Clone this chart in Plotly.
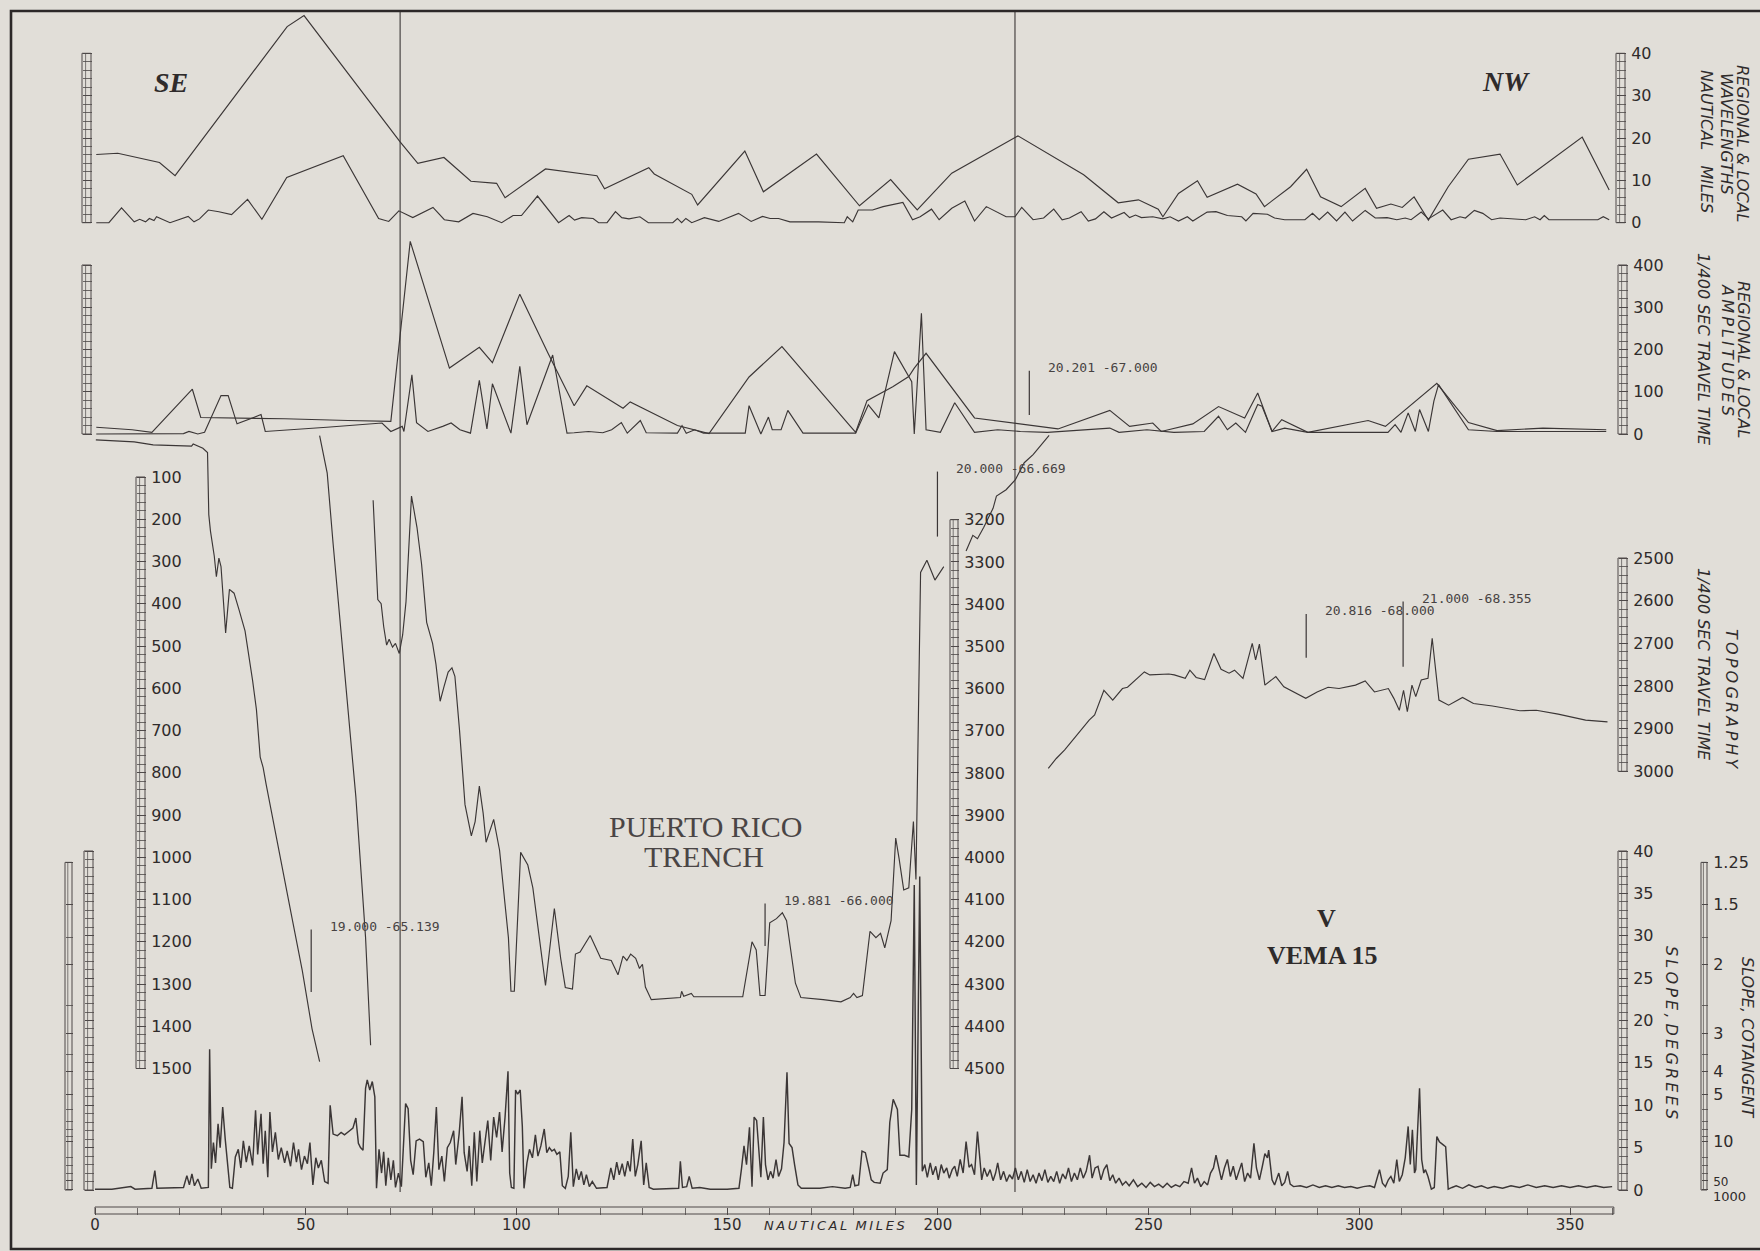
import numpy as np
import plotly.graph_objects as go

W, H = 1760, 1251
PAPER = "#e1ded8"
INK = "#3b3636"
RULE = "#4e4949"
TEXT = "#2f2b2b"

# ---------------- regional & local wavelengths (nautical miles) ----------------
wl_regional_nm = [0.3, 5.4, 15.3, 19.0, 45.6, 49.6, 72.4, 76.6, 82.8, 89.2, 95.3, 97.3,
                  106.9, 119.1, 120.9, 131.4, 132.7, 141.6, 143.0, 154.2, 158.6, 171.2,
                  181.4, 188.8, 195.1, 203.3, 219.0, 234.6, 242.8, 247.6, 252.3, 253.4,
                  257.1, 261.6, 263.9, 271.1, 275.5, 277.5, 283.7, 287.5, 290.8, 295.7,
                  301.4, 304.1, 307.5, 310.2, 313.0, 316.4, 321.1, 325.9, 333.4, 337.5,
                  352.9, 359.3]
wl_regional = [16.1, 16.4, 14.2, 11.1, 46.3, 48.9, 19.1, 14.0, 15.4, 9.8, 9.3, 5.9,
               12.7, 11.1, 8.0, 13.0, 11.5, 6.7, 4.2, 16.9, 7.3, 16.2,
               4.0, 10.2, 3.0, 11.7, 20.5, 11.3, 4.7, 5.4, 3.2, 1.4,
               6.9, 9.9, 6.0, 9.1, 6.8, 3.8, 8.5, 12.6, 6.1, 3.8,
               8.1, 3.4, 4.4, 3.6, 6.1, 0.6, 8.5, 15.0, 16.2, 8.9,
               20.2, 7.7]

wl_local_nm = [0.3, 3.3, 6.3, 9.3, 10.6, 12.0, 12.9, 14.0, 14.6, 17.8, 22.1, 23.5, 24.8,
               26.9, 29.4, 32.4, 36.2, 39.6, 45.5, 58.9, 67.3, 69.7, 72.1, 75.4, 80.2,
               82.9, 86.3, 89.7, 93.1, 96.5, 99.2, 101.2, 105.0, 110.0, 112.5, 113.8,
               115.5, 118.2, 119.5, 121.5, 123.5, 125.0, 126.7, 129.3, 131.3, 137.1,
               138.2, 139.2, 140.2, 141.6, 144.6, 148.0, 152.7, 155.7, 158.4, 160.2,
               162.2, 164.9, 171.7, 177.8, 178.5, 179.8, 181.1, 184.5, 187.0, 191.7,
               194.0, 195.8, 198.5, 200.3, 203.3, 206.4, 208.7, 211.5, 216.2, 218.3,
               219.9, 222.6, 225.1, 227.5, 229.5, 231.2, 234.0, 235.7, 237.4, 239.4,
               241.2, 244.2, 245.5, 246.9, 248.3, 251.0, 253.4, 255.1, 257.1, 259.2,
               260.5, 263.9, 266.0, 268.7, 272.1, 273.1, 274.8, 278.2, 279.9, 282.3,
               287.1, 288.9, 290.5, 292.5, 294.6, 296.6, 298.4, 301.4, 303.8, 306.6,
               308.9, 310.9, 312.3, 314.7, 316.4, 319.8, 321.8, 323.9, 325.2, 327.3,
               329.3, 331.4, 333.4, 339.5, 341.6, 342.9, 343.9, 345.0, 356.6, 357.9,
               359.3]
wl_local = [0.0, 0.0, 3.5, 0.2, 0.8, 0.2, 1.0, 0.5, 1.4, 0.0, 1.5, 0.2, 0.9,
            3.0, 2.6, 1.9, 5.5, 0.8, 10.7, 15.8, 1.0, 0.3, 2.8, 1.2, 3.6,
            0.7, 0.2, 2.2, 1.4, 0.0, 1.7, 1.7, 6.3, 0.0, 1.7, 0.6,
            1.2, 1.0, 0.0, 0.0, 2.6, 1.2, 0.9, 1.4, 0.0, 0.0,
            1.0, 0.0, 1.0, 0.0, 1.2, 0.3, 2.2, 0.3, 1.5, 1.0,
            1.0, 0.2, 0.2, 0.0, 1.4, 0.2, 3.0, 3.0, 3.8, 4.8,
            0.7, 1.4, 3.2, 0.7, 3.4, 5.1, 0.4, 3.8, 1.4, 1.4,
            3.6, 0.7, 1.1, 3.2, 0.7, 1.1, 2.6, 0.4, 0.9, 2.6,
            1.1, 2.4, 1.2, 1.8, 1.2, 1.4, 0.9, 1.4, 0.4, 1.4,
            0.4, 2.5, 2.6, 1.7, 1.4, 0.4, 2.2, 2.0, 1.1, 0.7,
            0.7, 2.2, 0.7, 2.5, 0.4, 2.5, 0.4, 2.9, 1.1, 1.2,
            0.7, 1.1, 0.7, 2.5, 0.9, 3.0, 0.7, 1.4, 1.1, 2.9,
            2.2, 0.7, 1.1, 0.7, 1.4, 0.7, 1.7, 0.7, 0.7, 1.4,
            0.7]

# ---------------- regional & local amplitudes (1/400 sec travel time) ----------------
amp_regional_nm = [0.3, 8.8, 13.5, 23.1, 25.1, 33.3, 45.0, 60.0, 70.2, 74.8, 84.1, 91.2,
                   94.3, 100.8, 107.5, 113.7, 116.7, 125.3, 127.0, 138.2, 145.7, 155.2,
                   163.0, 179.1, 180.5, 183.2, 186.7, 189.3, 193.1, 194.4, 197.2, 208.7,
                   228.5, 240.8, 245.5, 251.0, 253.0, 260.5, 266.6, 272.8, 275.9, 279.3,
                   281.6, 287.8, 302.1, 306.2, 318.4, 325.9, 332.7, 343.6, 358.6]
amp_regional = [16, 10, 4, 106, 39, 38, 36, 32, 30, 456, 156, 205,
                169, 331, 191, 67, 114, 61, 76, 20, 1, 135,
                207, 20, 4, 79, 97, 112, 136, 156, 191, 38,
                12, 56, 18, 26, 6, 24, 65, 38, 97, 6,
                34, 4, 32, 18, 120, 27, 8, 14, 10]

amp_local_nm = [0.3, 13.5, 21.0, 22.3, 24.4, 26.0, 29.9, 31.6, 33.7, 39.4, 40.4, 55.0,
                68.1, 70.2, 72.9, 73.3, 75.2, 76.3, 79.0, 82.5, 84.5, 86.6, 89.1, 91.2,
                93.0, 94.3, 98.7, 100.8, 102.5, 108.6, 112.0, 113.7, 117.1, 120.5, 122.6,
                124.9, 126.3, 129.4, 130.8, 138.2, 139.3, 140.3, 142.3, 144.4, 154.3,
                155.2, 158.0, 159.8, 160.7, 162.8, 164.4, 168.0, 180.5, 183.5, 186.0,
                189.7, 193.8, 194.4, 196.1, 197.2, 200.6, 204.0, 208.7, 214.2, 219.6,
                226.0, 236.0, 240.8, 243.0, 249.6, 256.0, 263.2, 266.6, 268.7, 270.7,
                273.0, 275.9, 276.9, 279.3, 282.3, 287.8, 306.8, 308.5, 309.9, 311.6,
                313.3, 314.3, 316.4, 317.7, 318.8, 325.9, 332.7, 358.6]
amp_local = [0, 0, 1, 6, 0, 4, 91, 91, 24, 46, 6, 16,
             26, 6, 18, 6, 140, 27, 6, 18, 26, 10, 2, 127,
             12, 119, 2, 160, 22, 187, 2, 3, 6, 3, 10,
             27, 2, 32, 3, 2, 20, 2, 10, 2, 2,
             67, 0, 40, 10, 10, 56, 2, 2, 69, 38,
             195, 124, 0, 286, 10, 4, 74, 4, 10, 6,
             4, 10, 14, 4, 10, 4, 6, 42, 10, 26,
             4, 70, 66, 6, 14, 4, 4, 22, 4, 50,
             6, 58, 6, 78, 117, 10, 6, 6]

# ---------------- topography (1/400 sec travel time, plotted in sweeps) ----------------
# first sweep, left scale
topo_shelf_nm = [0.2, 9.3, 13.8, 22.9, 23.3, 25.6, 26.7, 27.0, 27.4, 28.3, 28.8, 29.4,
                 29.9, 31.0, 31.9, 33.0, 34.2, 35.6, 37.4, 38.3, 39.2, 39.9, 40.6, 41.9,
                 43.8, 46.5, 49.2, 51.5, 53.3]
topo_shelf = [12, 17, 24, 27, 22, 32, 42, 189, 228, 287, 336, 292,
              312, 469, 366, 375, 415, 464, 582, 650, 763, 788, 827, 896,
              994, 1131, 1269, 1406, 1484]
# second sweep, left scale
topo_slope_nm = [53.3, 55.1, 56.5, 59.2, 61.9, 64.2, 64.8, 65.4]
topo_slope = [2, 91, 258, 562, 857, 1190, 1337, 1445]
# third sweep, middle scale
topo_trench_nm = [66.0, 67.1, 67.9, 68.5, 69.2, 69.8, 70.6, 71.3, 72.2, 73.0, 73.8, 75.1,
                  76.4, 77.5, 78.7, 80.1, 80.9, 81.9, 82.8, 83.8, 84.7, 85.4, 86.5, 87.8,
                  89.3, 90.2, 91.2, 92.1, 92.8, 93.6, 94.6, 96.0, 97.1, 98.1, 98.7, 99.5,
                  101.0, 102.7, 103.9, 106.9, 109.0, 110.5, 111.6, 113.3, 114.0, 115.1,
                  117.5, 118.6, 120.0, 122.5, 124.1, 125.3, 126.2, 127.1, 128.3, 129.2,
                  129.9, 130.6, 132.0, 138.9, 139.2, 139.7, 141.5, 142.1, 153.7, 155.9,
                  156.9, 157.8, 159.0, 160.1, 161.7, 163.1, 164.1, 166.2, 167.5, 172.8,
                  177.0, 179.2, 180.0, 180.8, 182.1, 183.9, 185.3, 186.4, 187.4, 188.9,
                  190.0, 190.8, 191.9, 193.1, 194.2, 194.8, 195.9, 197.4, 199.3, 201.4]
topo_trench = [3154, 3389, 3399, 3453, 3497, 3483, 3502, 3493, 3517, 3473, 3394, 3144,
               3218, 3306, 3443, 3493, 3542, 3630, 3596, 3561, 3551, 3571, 3699, 3875,
               3949, 3915, 3831, 3895, 3964, 3939, 3910, 3983, 4091, 4190, 4317, 4317,
               3988, 4018, 4072, 4303, 4121, 4239, 4308, 4312, 4229, 4224,
               4185, 4209, 4239, 4244, 4278, 4234, 4244, 4229, 4239, 4263,
               4253, 4307, 4337, 4332, 4317, 4329, 4322, 4330, 4330, 4200,
               4219, 4327, 4327, 4155, 4145, 4131, 4150, 4298, 4332, 4337,
               4342, 4332, 4322, 4332, 4327, 4175, 4190, 4180, 4214, 4150,
               3954, 4003, 4077, 4072, 3915, 4052, 3325, 3296, 3343, 3311]
topo_wall_nm = [206.7, 208.3, 209.4, 210.9, 213.1, 213.9, 216.2, 218.4, 220.5, 222.6, 226.4]
topo_wall = [3274, 3237, 3245, 3218, 3173, 3144, 3129, 3105, 3065, 3046, 3000]
# fourth sweep, right scale
topo_nw_nm = [226.2, 228.1, 230.1, 232.7, 235.9, 237.2, 239.4, 241.5, 243.8, 245.0, 249.0,
              250.3, 254.8, 256.1, 258.7, 259.8, 261.3, 263.3, 265.5, 267.2, 269.1, 270.4,
              272.4, 274.6, 275.4, 276.3, 277.6, 280.2, 282.1, 287.3, 290.0, 292.6, 295.2,
              299.1, 301.4, 303.6, 306.9, 308.2, 309.5, 310.5, 311.4, 312.5, 313.4, 314.7,
              316.3, 317.3, 318.9, 321.2, 324.5, 327.1, 331.6, 338.1, 342.0, 347.2, 353.7,
              358.9]
topo_nw = [2993, 2970, 2950, 2919, 2880, 2868, 2810, 2833, 2806, 2803, 2767,
           2774, 2772, 2774, 2782, 2763, 2780, 2785, 2724, 2761, 2770, 2763,
           2782, 2700, 2739, 2702, 2798, 2778, 2802, 2829, 2814, 2803, 2806,
           2798, 2788, 2814, 2806, 2829, 2857, 2810, 2860, 2798, 2825, 2786,
           2782, 2688, 2833, 2845, 2827, 2841, 2847, 2858, 2857, 2866, 2880,
           2884]

# ---------------- slope (degrees) ----------------
slope_nm = [0.0, 4.0, 8.5, 9.5, 13.5, 14.2, 14.7, 21.0, 21.8, 22.4, 23.0, 23.6, 24.4, 25.2,
            26.9, 27.2, 27.6, 28.1, 28.6, 29.2, 29.7, 30.3, 30.9, 31.4, 32.0, 32.6, 33.3,
            34.0, 34.6, 35.2, 35.9, 36.6, 37.4, 38.1, 38.6, 39.4, 39.9, 40.4, 41.0, 41.5,
            42.1, 42.8, 43.5, 44.2, 45.0, 45.6, 46.4, 47.1, 47.8, 48.3, 49.0, 49.7, 50.4,
            51.0, 51.7, 52.4, 53.0, 53.7, 54.5, 55.3, 55.8, 56.5, 57.5, 58.4, 59.2, 60.2,
            61.2, 61.9, 62.5, 63.0, 63.6, 64.2, 64.6, 65.2, 65.8, 66.4, 66.8, 67.4, 68.0,
            68.5, 69.0, 69.6, 70.2, 70.8, 71.3, 72.0, 72.7, 73.7, 74.3, 74.9, 75.5, 76.2,
            77.0, 77.9, 78.5, 79.2, 79.8, 80.4, 81.0, 81.6, 82.3, 82.9, 83.6, 84.3, 85.1,
            85.6, 86.4, 87.1, 87.6, 88.3, 88.8, 89.4, 90.0, 90.6, 91.3, 91.9, 92.6, 93.2,
            93.9, 94.6, 95.3, 96.0, 96.6, 97.3, 98.0, 98.4, 98.8, 99.4, 99.8, 100.3, 100.9,
            101.4, 101.8, 102.5, 103.1, 103.8, 104.5, 105.1, 105.8, 106.6, 107.2, 107.8,
            108.4, 109.0, 109.6, 110.3, 110.9, 111.6, 112.3, 112.9, 113.5, 114.2, 114.8,
            115.4, 116.0, 116.6, 117.3, 118.0, 119.0, 121.5, 122.4, 123.1, 123.8, 124.4,
            125.1, 125.7, 126.4, 127.0, 127.6, 128.2, 128.8, 129.6, 130.2, 130.8, 131.5,
            132.5, 138.5, 138.9, 139.4, 140.4, 141.0, 141.7, 143.5, 146.0, 150.0, 152.8,
            153.4, 154.0, 154.6, 155.3, 155.9, 156.4, 157.0, 157.5, 158.0, 158.6, 159.1,
            159.7, 160.3, 160.9, 161.6, 162.2, 162.9, 163.5, 164.2, 164.7, 165.4, 166.0,
            166.8, 167.6, 172.0, 175.0, 178.0, 179.2, 179.8, 180.3, 181.2, 182.0, 182.8,
            183.6, 184.2, 184.9, 186.3, 187.0, 188.0, 188.6, 189.4, 190.4, 191.0, 192.1,
            193.1, 193.8, 194.4, 194.9, 195.7, 196.3, 196.9, 197.5, 198.2, 198.8, 199.5,
            200.1, 200.8, 201.4, 202.1, 202.7, 203.4, 204.0, 204.6, 205.3, 206.0, 206.7,
            207.4, 208.0, 208.7, 209.4, 210.4, 211.0, 211.7, 212.4, 213.1, 213.7, 214.2,
            214.9, 215.6, 216.3, 217.0, 217.7, 218.4, 219.1, 219.8, 220.5, 221.2, 221.9,
            222.6, 223.3, 224.0, 224.7, 225.4, 226.1, 226.8, 227.5, 228.2, 228.9, 229.6,
            230.3, 231.0, 231.7, 232.4, 233.1, 233.8, 234.5, 235.2, 236.0, 236.6, 237.3,
            238.0, 238.7, 239.4, 240.1, 240.8, 241.5, 242.2, 243.0, 243.8, 244.6, 245.4,
            246.4, 247.4, 248.4, 249.4, 250.4, 251.4, 252.4, 253.4, 254.4, 255.4, 256.4,
            257.4, 258.4, 259.4, 260.2, 260.9, 261.6, 262.4, 263.2, 264.0, 264.7, 265.4,
            266.0, 266.6, 267.3, 268.0, 268.7, 269.4, 270.1, 270.8, 271.5, 272.1, 272.8,
            273.5, 274.2, 275.0, 275.6, 276.3, 277.0, 277.6, 278.2, 278.5, 279.3, 279.9,
            280.9, 281.6, 282.3, 283.0, 283.6, 284.4, 286.0, 287.5, 289.0, 290.5, 292.0,
            293.5, 295.0, 296.5, 298.0, 299.5, 301.0, 302.5, 303.6, 304.8, 305.5, 306.2,
            306.9, 307.5, 308.2, 308.9, 309.5, 310.2, 310.9, 311.6, 312.1, 312.6, 313.1,
            313.4, 314.3, 314.8, 315.3, 315.7, 316.3, 317.1, 317.8, 318.4, 319.0, 319.4,
            320.0, 320.5, 321.1, 322.0, 323.0, 324.5, 326.0, 327.5, 329.0, 330.5, 332.0,
            334.0, 336.0, 338.0, 340.0, 342.0, 344.0, 346.0, 348.0, 350.0, 352.0, 354.0,
            356.0, 358.0, 360.0]
slope_deg = [0.1, 0.1, 0.4, 0.1, 0.2, 2.3, 0.2, 0.3, 1.7, 0.6, 1.9, 0.5, 1.3, 0.2,
             0.3, 16.6, 2.5, 5.6, 3.2, 7.8, 5.0, 9.8, 6.0, 3.5, 0.3, 0.2, 3.9,
             4.8, 2.6, 5.8, 3.3, 5.2, 2.9, 9.4, 4.2, 9.0, 3.1, 7.0, 1.5, 9.2,
             4.5, 6.8, 3.6, 5.0, 3.2, 4.6, 2.8, 5.6, 3.3, 4.8, 2.4, 4.0, 3.1,
             5.6, 0.6, 3.8, 2.6, 3.5, 1.0, 0.8, 10.0, 6.6, 6.4, 6.8, 6.5, 6.9,
             7.3, 8.5, 5.5, 5.0, 4.7, 12.0, 13.0, 11.8, 12.8, 11.0, 0.2, 4.8, 2.0,
             4.5, 0.5, 3.8, 1.2, 3.5, 0.3, 2.0, 0.4, 10.2, 9.6, 3.5, 1.8, 5.8,
             6.0, 5.7, 1.5, 3.2, 0.5, 4.5, 9.8, 2.4, 4.0, 1.0, 5.0, 5.6, 7.0,
             3.0, 6.6, 11.0, 4.4, 2.2, 5.2, 0.5, 6.8, 1.0, 7.0, 3.2, 6.2, 8.2,
             3.5, 8.6, 6.2, 9.2, 4.5, 8.6, 14.0, 2.0, 0.3, 0.2, 11.8, 11.3, 11.8,
             7.5, 0.2, 3.2, 4.8, 3.8, 6.5, 4.0, 5.2, 7.2, 4.4, 5.0,
             4.6, 4.8, 4.2, 4.5, 0.5, 0.2, 1.6, 6.8, 0.4, 2.5, 1.2,
             2.2, 0.6, 1.8, 0.4, 1.0, 0.2, 0.3, 2.6, 1.2, 3.3, 1.8,
             3.1, 1.6, 3.4, 2.2, 6.0, 1.6, 3.0, 5.8, 0.6, 3.2, 0.3,
             0.1, 0.2, 3.4, 0.3, 0.4, 1.6, 0.2, 0.3, 0.1, 0.1, 0.2,
             2.5, 5.2, 3.0, 7.4, 0.4, 8.6, 8.2, 4.2, 1.5, 8.6, 3.0,
             1.2, 2.2, 1.4, 3.6, 1.6, 2.5, 5.6, 13.9, 5.5, 5.0, 3.0,
             0.6, 0.2, 0.2, 0.4, 0.2, 0.3, 1.8, 0.5, 0.6, 4.6, 4.4,
             2.6, 1.2, 0.9, 0.8, 2.0, 2.4, 8.0, 10.7, 9.5, 4.1, 4.1,
             3.9, 9.5, 36.0, 0.6, 37.0, 2.2, 3.0, 1.5, 3.2, 1.8, 2.8,
             1.2, 3.0, 2.0, 2.6, 1.4, 2.4, 2.8, 1.6, 3.6, 2.0, 5.7,
             2.7, 3.0, 1.8, 6.9, 1.2, 2.6, 1.6, 2.4, 1.1, 2.0, 3.2,
             1.2, 2.2, 1.0, 1.8, 1.3, 2.6, 1.2, 2.2, 0.9, 2.4, 1.0,
             1.8, 0.8, 2.0, 1.1, 2.4, 0.9, 1.6, 1.0, 2.2, 0.8, 1.9,
             1.3, 2.6, 1.0, 2.0, 1.2, 2.6, 1.4, 2.2, 4.1, 1.4, 2.6,
             2.8, 1.2, 2.4, 3.0, 1.1, 1.8, 0.8, 1.4, 0.6, 1.0, 0.5,
             1.2, 0.4, 0.8, 0.3, 0.9, 0.4, 0.7, 0.3, 0.8, 0.3, 0.6,
             0.4, 1.0, 0.8, 2.6, 0.8, 1.4, 0.4, 1.0, 0.6, 2.0, 2.6,
             4.1, 2.8, 1.2, 2.6, 3.6, 1.6, 2.8, 1.2, 2.2, 3.2, 1.0,
             2.0, 1.4, 5.5, 2.6, 1.2, 2.8, 4.3, 3.8, 4.7, 1.2, 0.6,
             2.0, 0.5, 0.9, 2.2, 0.7, 0.4, 0.5, 0.3, 0.6, 0.3, 0.5,
             0.3, 0.5, 0.3, 0.4, 0.2, 0.4, 0.5, 0.3, 2.4, 0.8, 0.4,
             1.2, 1.6, 0.8, 3.6, 1.0, 1.8, 3.8, 7.5, 3.0, 7.1, 2.0,
             2.4, 12.0, 3.6, 2.0, 2.4, 1.6, 0.1, 0.3, 6.3, 5.7, 5.5,
             5.3, 5.1, 0.1, 0.3, 0.5, 0.2, 0.6, 0.3, 0.5, 0.2, 0.4,
             0.2, 0.5, 0.3, 0.6, 0.3, 0.5, 0.3, 0.5, 0.3, 0.5, 0.3,
             0.5, 0.3, 0.4]

# ---------------- section marks and position fixes ----------------
section_nm = [72.4, 218.3]

fix_nm = [51.3, 199.9, 221.7, 159.0, 287.4, 310.4]
fix_text = ["19.000 -65.139", "20.000 -66.669", "20.201 -67.000",
            "19.881 -66.000", "20.816 -68.000", "21.000 -68.355"]
fix_axis = ["y5", "y6", "y3", "y6", "y7", "y7"]
fix_top = [1171, 3086, 150, 4109, 2631, 2602]
fix_bottom = [1319, 3240, 45, 4210, 2734, 2755]

# ---------------- scale ticks ----------------
nm_ticks = list(range(0, 351, 50))
wl_ticks = [0, 10, 20, 30, 40]
amp_ticks = [0, 100, 200, 300, 400]
topo_left_ticks = list(range(100, 1501, 100))
topo_mid_ticks = list(range(3200, 4501, 100))
topo_right_ticks = list(range(2500, 3001, 100))
slope_ticks = list(range(0, 41, 5))
cot_ticks = [1.25, 1.5, 2, 3, 4, 5, 10, 50, 1000]
cot_labels = ["1.25", "1.5", "2", "3", "4", "5", "10",
              "<span style='font-size:12px'>50</span>", ""]
cot_last_label = "1000"
cot_minor = [1.75, 2.5, 3.5, 6, 7, 8, 9, 15, 20, 30]


# ---------------- sheet geometry (pixels on the 1760 x 1251 sheet) ----------------
def fx(px):
    return px / W


def fy(py):
    return 1 - py / H


def value_range(v_a, y_a, v_b, y_b):
    """Axis range for a full-height axis on which v_a sits at pixel row y_a and v_b at y_b."""
    k = (v_b - v_a) / (y_b - y_a)
    return [v_a + (H - y_a) * k, v_a - y_a * k]


NM0_PX, NM350_PX = 95.0, 1570.0
k_nm = 350.0 / (NM350_PX - NM0_PX)
x_range = [-NM0_PX * k_nm, (W - NM0_PX) * k_nm]

rng_wl = value_range(0, 222.7, 40, 53.3)
rng_amp = value_range(0, 434.0, 400, 265.0)
rng_topo_l = value_range(100, 477.0, 1500, 1068.5)
rng_topo_m = value_range(3200, 519.7, 4500, 1068.5)
rng_topo_r = value_range(2500, 558.0, 3000, 771.3)
rng_slope = value_range(0, 1190.0, 40, 851.0)

cot_deg = list(np.degrees(np.arctan(1.0 / np.array(cot_ticks))))
cot_minor_deg = list(np.degrees(np.arctan(1.0 / np.array(cot_minor))))

TICK_FONT = dict(family="DejaVu Sans", size=16, color=TEXT)


def scale_axis(rng, pos_px, major, labels=None, minor=None, show=True, barw=9,
               overlay=True, font=None):
    ax = dict(anchor="free", position=fx(pos_px), side="right", range=rng,
              showgrid=False, zeroline=False, showline=False, automargin=False,
              tickmode="array", tickvals=major,
              ticktext=labels if labels is not None else [str(v) for v in major],
              ticks="outside", ticklen=barw, tickwidth=1, tickcolor=RULE,
              showticklabels=show, tickfont=font or TICK_FONT,
              ticklabelstandoff=2, fixedrange=True)
    if minor is not None:
        ax["minor"] = dict(tickmode="array", tickvals=list(minor), ticks="outside",
                           ticklen=barw, tickwidth=0.8, tickcolor=RULE, showgrid=False)
    if overlay:
        ax["overlaying"] = "y"
    return ax


fig = go.Figure()


def line(x, y, axis, width=1.15):
    fig.add_trace(go.Scatter(x=x, y=y, yaxis=axis, mode="lines",
                             line=dict(color=INK, width=width),
                             hoverinfo="skip", showlegend=False))


line(wl_regional_nm, wl_regional, "y")
line(wl_local_nm, wl_local, "y")
line(amp_regional_nm, amp_regional, "y3")
line(amp_local_nm, amp_local, "y3")
line(topo_shelf_nm, topo_shelf, "y5")
line(topo_slope_nm, topo_slope, "y5")
line(topo_trench_nm, topo_trench, "y6")
line(topo_wall_nm, topo_wall, "y6")
line(topo_nw_nm, topo_nw, "y7")
line(slope_nm, slope_deg, "y8", width=1.45)

# companion scale bars carry no data of their own
for ax_id in ["y2", "y4", "y9", "y10", "y11"]:
    fig.add_trace(go.Scatter(x=[None], y=[None], yaxis=ax_id, mode="lines",
                             hoverinfo="skip", showlegend=False))

wl_minor = np.arange(0, 40.1, 2)
amp_minor = np.arange(0, 400.1, 20)
tl_minor = np.arange(100, 1500.1, 20)
tm_minor = np.arange(3200, 4500.1, 20)
tr_minor = np.arange(2500, 3000.1, 20)
sl_minor = np.arange(0, 40.1, 1)

layout_axes = dict(
    xaxis=dict(anchor="free", position=fy(1207), side="bottom", range=x_range,
               showgrid=False, zeroline=False, showline=False, automargin=False,
               tickmode="array", tickvals=nm_ticks, ticks="outside", ticklen=7,
               tickwidth=1, tickcolor=RULE, ticklabelstandoff=-3,
               tickfont=dict(family="DejaVu Sans", size=15, color=TEXT),
               minor=dict(tickmode="array", tickvals=list(range(0, 361, 10)),
                          ticks="outside", ticklen=7, tickwidth=0.8, tickcolor=RULE),
               fixedrange=True),
    yaxis=scale_axis(rng_wl, 1616, wl_ticks, minor=wl_minor, overlay=False),
    yaxis2=scale_axis(rng_wl, 82, wl_ticks, minor=wl_minor, show=False),
    yaxis3=scale_axis(rng_amp, 1618, amp_ticks, minor=amp_minor),
    yaxis4=scale_axis(rng_amp, 82, amp_ticks, minor=amp_minor, show=False),
    yaxis5=scale_axis(rng_topo_l, 136, topo_left_ticks, minor=tl_minor),
    yaxis6=scale_axis(rng_topo_m, 950, topo_mid_ticks, minor=tm_minor, barw=8),
    yaxis7=scale_axis(rng_topo_r, 1618, topo_right_ticks, minor=tr_minor),
    yaxis8=scale_axis(rng_slope, 1618, slope_ticks, minor=sl_minor),
    yaxis9=scale_axis(rng_slope, 84, slope_ticks, minor=sl_minor, show=False),
    yaxis10=scale_axis(rng_slope, 1701, cot_deg, labels=cot_labels,
                       minor=cot_minor_deg, barw=6),
    yaxis11=scale_axis(rng_slope, 65, cot_deg, labels=cot_labels,
                       minor=cot_minor_deg, barw=7, show=False),
)

shapes = []


def bar(yref, x_px, w_px, v0, v1):
    shapes.append(dict(type="rect", xref="paper", yref=yref,
                       x0=fx(x_px), x1=fx(x_px + w_px), y0=v0, y1=v1,
                       line=dict(color=RULE, width=1), fillcolor="rgba(0,0,0,0)"))
    shapes.append(dict(type="line", xref="paper", yref=yref,
                       x0=fx(x_px + w_px * 0.4), x1=fx(x_px + w_px * 0.4), y0=v0, y1=v1,
                       line=dict(color=RULE, width=0.7)))


bar("y", 1616, 9, 0, 40)
bar("y2", 82, 9, 0, 40)
bar("y3", 1618, 9, 0, 400)
bar("y4", 82, 9, 0, 400)
bar("y5", 136, 9, 100, 1500)
bar("y6", 950, 8, 3200, 4500)
bar("y7", 1618, 9, 2500, 3000)
bar("y8", 1618, 9, 0, 40)
bar("y9", 84, 9, 0, 40)
bar("y10", 1701, 6, 0, cot_deg[0])
bar("y11", 65, 7, 0, cot_deg[0])

# distance ruler along the bottom
shapes.append(dict(type="rect", xref="x", yref="paper", x0=0, x1=360.4,
                   y0=fy(1214), y1=fy(1207), line=dict(color=RULE, width=1),
                   fillcolor="rgba(0,0,0,0)"))

# section marks
for nm in section_nm:
    shapes.append(dict(type="line", xref="x", yref="paper", x0=nm, x1=nm,
                       y0=fy(1192), y1=fy(11), line=dict(color=INK, width=1.1)))

# position-fix ticks
for nm, ax_id, top, bottom in zip(fix_nm, fix_axis, fix_top, fix_bottom):
    shapes.append(dict(type="line", xref="x", yref=ax_id, x0=nm, x1=nm,
                       y0=top, y1=bottom, line=dict(color=INK, width=1.2)))

# sheet border
shapes.append(dict(type="rect", xref="paper", yref="paper", x0=fx(11), x1=1.02,
                   y0=fy(1249), y1=fy(11), line=dict(color="#2c2828", width=2.6),
                   fillcolor="rgba(0,0,0,0)"))

annotations = []

for nm, ax_id, top, txt in zip(fix_nm, fix_axis, fix_top, fix_text):
    annotations.append(dict(x=nm, y=top, xref="x", yref=ax_id, text=txt,
                            showarrow=False, xanchor="left", yanchor="middle",
                            xshift=17, yshift=3,
                            font=dict(family="DejaVu Sans Mono", size=13, color="#474242")))

# the last cotangent label sits just under the scale foot
annotations.append(dict(x=fx(1711), y=cot_deg[-1], xref="paper", yref="y10",
                        text=cot_last_label, showarrow=False, xanchor="left",
                        yanchor="middle", yshift=-7,
                        font=dict(family="DejaVu Sans", size=13, color=TEXT)))


def note(x_px, y_px, text, size, family="DejaVu Sans", color=TEXT, angle=0):
    annotations.append(dict(x=fx(x_px), y=fy(y_px), xref="paper", yref="paper",
                            text=text, showarrow=False, xanchor="center",
                            yanchor="middle", textangle=angle,
                            font=dict(family=family, size=size, color=color)))


def spaced(s, gap="\u2009"):
    return gap.join(list(s))


# direction and place names
note(171, 83, "<b><i>SE</i></b>", 28, family="Liberation Serif")
note(1506, 81, "<b><i>NW</i></b>", 28, family="Liberation Serif")
note(706, 826, "PUERTO RICO", 30, family="Liberation Serif", color="#4a4545")
note(704, 856, "TRENCH", 30, family="Liberation Serif", color="#4a4545")
note(1326, 918, "<b>V</b>", 26, family="Liberation Serif")
note(1322, 955, "<b>VEMA 15</b>", 26, family="Liberation Serif")
note(834, 1225, "<i>" + spaced("NAUTICAL") + "  " + spaced("MILES") + "</i>", 13)

# panel titles, lettered down the right margin
note(1743, 143, "<i>REGIONAL & LOCAL</i>", 16, angle=90)
note(1727, 134, "<i>WAVELENGTHS</i>", 16, angle=90)
note(1706, 141, "<i>NAUTICAL   MILES</i>", 16, angle=90)
note(1743, 359, "<i>REGIONAL & LOCAL</i>", 16, angle=90)
note(1727, 350, "<i>" + spaced("AMPLITUDES") + "</i>", 16, angle=90)
note(1704, 349, "<i>1/400 SEC TRAVEL TIME</i>", 16, angle=90)
note(1732, 699, "<i>" + spaced("TOPOGRAPHY") + "</i>", 16, angle=90)
note(1704, 664, "<i>1/400 SEC TRAVEL TIME</i>", 16, angle=90)
note(1672, 1032, "<i>" + spaced("SLOPE,") + " " + spaced("DEGREES") + "</i>", 16, angle=90)
note(1748, 1038, "<i>SLOPE, COTANGENT</i>", 16, angle=90)

fig.update_layout(
    width=W, height=H, autosize=False,
    margin=dict(l=0, r=0, t=0, b=0, pad=0),
    paper_bgcolor=PAPER, plot_bgcolor=PAPER,
    showlegend=False, hovermode=False,
    shapes=shapes, annotations=annotations,
    **layout_axes,
)

fig.write_html("out.html", config={"displayModeBar": False, "staticPlot": True})
